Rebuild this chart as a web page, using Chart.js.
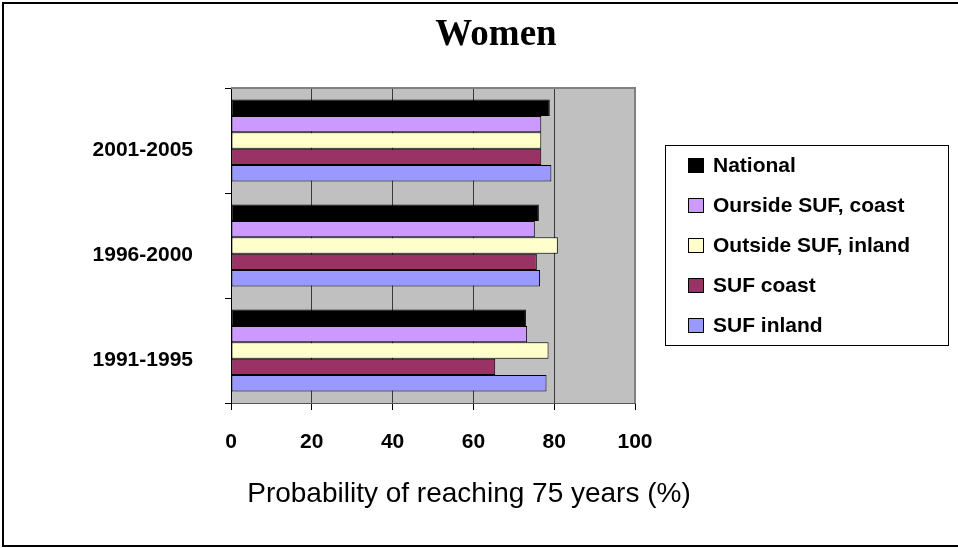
<!DOCTYPE html>
<html lang="en">
<head>
    <meta charset="UTF-8">
    <title>Women</title>
    <script src="https://cdn.jsdelivr.net/npm/chart.js@4.4.8/dist/chart.umd.min.js"></script>
    <style>
        body { margin: 0; background: #fff; }
    </style>
</head>
<body>
<canvas id="womenChart" width="958" height="548"></canvas>

<script>
    // periods, listed top to bottom as drawn
    const periods = ['2001-2005', '1996-2000', '1991-1995'];
    const seriesNames = ['National', 'Ourside SUF, coast', 'Outside SUF, inland', 'SUF coast', 'SUF inland'];
    const national = [78.9, 76.2, 73.0];
    const outsideCoast = [76.8, 75.2, 73.3];
    const outsideInland = [76.8, 80.9, 78.6];
    const sufCoast = [76.8, 75.7, 65.4];
    const sufInland = [79.3, 76.5, 78.1];
    const xTicks = [0, 20, 40, 60, 80, 100];
    const colors = ['#000000', '#CC99FF', '#FFFFCC', '#993366', '#9999FF'];

    const values = [national, outsideCoast, outsideInland, sufCoast, sufInland];
    const datasets = seriesNames.map((name, i) => ({
        label: name,
        data: values[i],
        backgroundColor: colors[i],
        borderColor: '#000',
        borderWidth: 1,
        borderSkipped: false,
        categoryPercentage: 0.78,
        barPercentage: 1.0
    }));

    // grey plot area, title, axis caption, boxed legend, outer frame
    const decor = {
        id: 'decor',
        beforeDraw(chart) {
            const ctx = chart.ctx;
            const a = chart.chartArea;
            ctx.save();
            ctx.fillStyle = '#C0C0C0';
            ctx.fillRect(a.left, a.top, a.right - a.left, a.bottom - a.top);
            ctx.restore();
        },
        beforeDatasetsDraw(chart) {
            const ctx = chart.ctx;
            const a = chart.chartArea;
            ctx.save();
            ctx.strokeStyle = '#808080';
            ctx.lineWidth = 2;
            ctx.beginPath();
            ctx.moveTo(a.left, a.top);
            ctx.lineTo(a.right, a.top);
            ctx.lineTo(a.right, a.bottom);
            ctx.stroke();
            ctx.restore();
        },
        afterDraw(chart) {
            const ctx = chart.ctx;
            ctx.save();
            // outer frame (right edge is cut off in the original)
            ctx.strokeStyle = '#000';
            ctx.lineWidth = 2;
            ctx.beginPath();
            ctx.moveTo(958, 3);
            ctx.lineTo(3, 3);
            ctx.lineTo(3, 546);
            ctx.lineTo(958, 546);
            ctx.stroke();

            ctx.fillStyle = '#000';
            ctx.textAlign = 'center';
            ctx.textBaseline = 'alphabetic';
            ctx.font = 'bold 37px "Liberation Serif", "Times New Roman", serif';
            ctx.fillText('Women', 496, 45);

            ctx.font = '28px "Liberation Sans", Arial, sans-serif';
            ctx.fillText('Probability of reaching 75 years (%)', 469, 502);

            // legend
            ctx.lineWidth = 1;
            ctx.strokeRect(665.5, 145.5, 283, 200);
            ctx.textAlign = 'left';
            ctx.textBaseline = 'middle';
            ctx.font = 'bold 21px "Liberation Sans", Arial, sans-serif';
            chart.data.datasets.forEach((ds, i) => {
                const y = 165 + i * 40;
                ctx.fillStyle = ds.backgroundColor;
                ctx.fillRect(688, y - 7, 16, 15);
                ctx.strokeStyle = '#000';
                ctx.strokeRect(688.5, y - 6.5, 15, 14);
                ctx.fillStyle = '#000';
                ctx.fillText(ds.label, 713, y + 1);
            });
            ctx.restore();
        }
    };

    const context = document.getElementById('womenChart').getContext('2d');
    const chart = new Chart(context, {
        type: 'bar',
        data: {
            labels: periods,
            datasets: datasets
        },
        options: {
            indexAxis: 'y',
            responsive: false,
            animation: false,
            layout: {
                padding: { left: 0, top: 88, right: 323, bottom: 85 }
            },
            plugins: {
                legend: { display: false },
                title: { display: false },
                tooltip: { enabled: false }
            },
            scales: {
                x: {
                    min: 0,
                    max: 100,
                    afterBuildTicks: (scale) => {
                        scale.ticks = xTicks.map(v => ({ value: v }));
                    },
                    afterFit: (scale) => { scale.height = 60; },
                    border: { display: true, color: '#555', width: 1 },
                    grid: {
                        color: (c) => c.tick.value === 0 ? '#000' : (c.tick.value === 100 ? '#808080' : '#3a3a3a'),
                        tickColor: '#000',
                        tickLength: 7,
                        lineWidth: 1
                    },
                    ticks: {
                        color: '#000',
                        padding: 20,
                        font: { family: '"Liberation Sans", Arial, sans-serif', size: 21, weight: 'bold' }
                    }
                },
                y: {
                    afterFit: (scale) => { scale.width = 231; },
                    border: { display: true, color: '#000', width: 1 },
                    grid: {
                        drawOnChartArea: false,
                        tickColor: '#000',
                        tickLength: 6
                    },
                    ticks: {
                        color: '#000',
                        padding: 32,
                        labelOffset: 10,
                        font: { family: '"Liberation Sans", Arial, sans-serif', size: 21, weight: 'bold' }
                    }
                }
            }
        },
        plugins: [decor]
    });
</script>

</body>
</html>
